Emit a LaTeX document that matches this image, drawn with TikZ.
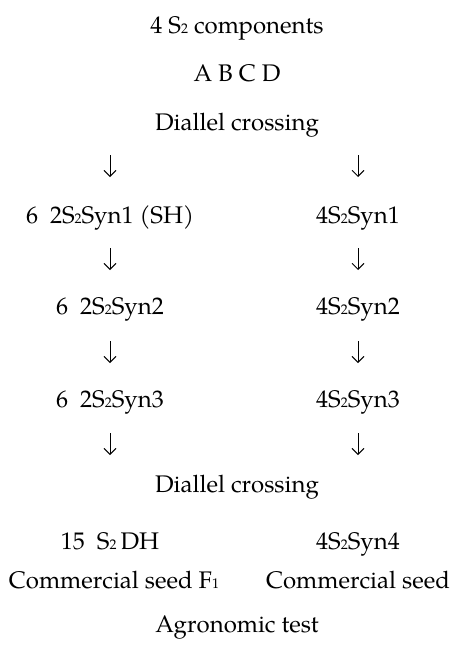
\documentclass[tikz,border=0pt]{standalone}
\usepackage{fontspec}
\setmainfont{TeX Gyre Pagella}
\usetikzlibrary{arrows.meta}
\tikzset{
  lbl/.style={inner sep=0pt, anchor=base, font=\fontsize{24}{28}\selectfont},
  arr/.style={line width=0.8pt, -{Straight Barb[length=6pt,width=12pt,line width=0.9pt]}}
}
\newcommand{\smallidx}[1]{\raisebox{-0.5pt}{\fontsize{14}{14}\selectfont #1}}
\newcommand{\sub}{\smallidx{2}}
\begin{document}
\begin{tikzpicture}[x=1pt,y=1pt]
\useasboundingbox (0,0) rectangle (452,-648);
% centre column
\node[lbl] (top)  at (237,-33)  {4 S\sub{} components};
\node[lbl] (abcd) at (237,-81)  {A B C D};
\node[lbl] (dc1)  at (237,-130) {Diallel crossing};
% left column
\node[lbl] (l1) at (110,-223) {6\ \ 2S\sub Syn1 (SH)};
\node[lbl] (l2) at (110,-314) {6\ \ 2S\sub Syn2};
\node[lbl] (l3) at (110,-407) {6\ \ 2S\sub Syn3};
% right column
\node[lbl] (r1) at (358,-223) {4S\sub Syn1};
\node[lbl] (r2) at (358,-314) {4S\sub Syn2};
\node[lbl] (r3) at (358,-407) {4S\sub Syn3};
% bottom
\node[lbl] (dc2) at (237,-492) {Diallel crossing};
\node[lbl] (l4) at (110,-549) {15\ \ S\sub\,DH};
\node[lbl] (r4) at (358,-549) {4S\sub Syn4};
\node[lbl] (l5) at (114,-588) {Commercial seed F\smallidx{1}};
\node[lbl] (r5) at (358,-588) {Commercial seed};
\node[lbl] (agr) at (237,-632) {Agronomic test};
% arrow end points
\coordinate (a1ls) at (110,-155); \coordinate (a1le) at (110,-177);
\coordinate (a1rs) at (358,-155); \coordinate (a1re) at (358,-177);
\coordinate (a2ls) at (110,-248); \coordinate (a2le) at (110,-270);
\coordinate (a2rs) at (358,-248); \coordinate (a2re) at (358,-270);
\coordinate (a3ls) at (110,-341); \coordinate (a3le) at (110,-363);
\coordinate (a3rs) at (358,-341); \coordinate (a3re) at (358,-363);
\coordinate (a4ls) at (110,-433); \coordinate (a4le) at (110,-455);
\coordinate (a4rs) at (358,-433); \coordinate (a4re) at (358,-455);
\foreach \i in {1,2,3,4}{
  \draw[arr] (a\i ls) -- (a\i le);
  \draw[arr] (a\i rs) -- (a\i re);
}
\end{tikzpicture}
\end{document}
